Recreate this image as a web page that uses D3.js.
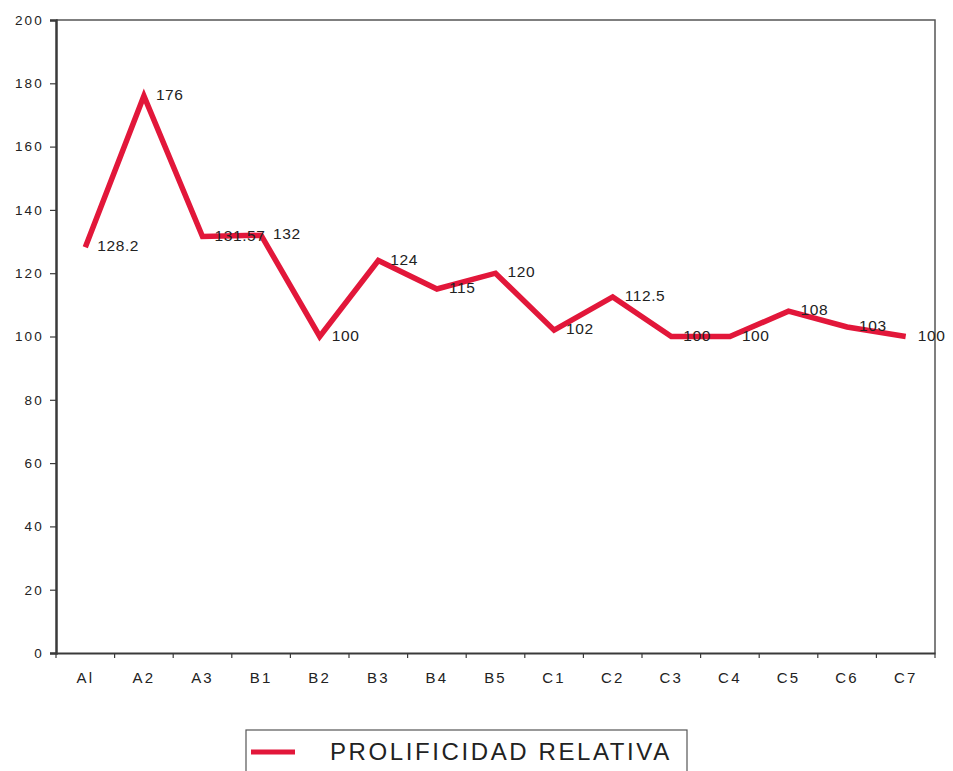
<!DOCTYPE html>
<html>
<head>
<meta charset="utf-8">
<script src="https://cdn.jsdelivr.net/npm/d3@7"></script>
<style>
  body { margin: 0; background: #fff; }
  svg { font-family: "Liberation Sans", Arial, sans-serif; }
</style>
</head>
<body>
<div id="chart"></div>
<script>
// categories and values
var categories = ["Al", "A2", "A3", "B1", "B2", "B3", "B4", "B5", "C1", "C2", "C3", "C4", "C5", "C6", "C7"];
var values = [128.2, 176, 131.57, 132, 100, 124, 115, 120, 102, 112.5, 100, 100, 108, 103, 100];
var valueLabels = ["128.2", "176", "131.57", "132", "100", "124", "115", "120", "102", "112.5", "100", "100", "108", "103", "100"];
var yTicks = [0, 20, 40, 60, 80, 100, 120, 140, 160, 180, 200];
var seriesName = "PROLIFICIDAD RELATIVA";

var svgWidth = 953, svgHeight = 771;
var plotLeft = 56, plotRight = 935, plotTop = 20, plotBottom = 653;
var red = "#e2173a";
var axisColor = "#3a3a3a";

var svg = d3.select("#chart").append("svg")
  .attr("width", svgWidth)
  .attr("height", svgHeight);

var x = d3.scaleBand().domain(categories).range([plotLeft, plotRight]);
var y = d3.scaleLinear().domain([0, 200]).range([plotBottom, plotTop]);

// frame (top and right)
svg.append("path")
  .attr("d", `M${plotLeft},${plotTop}H${plotRight}V${plotBottom}`)
  .attr("fill", "none")
  .attr("stroke", "#555")
  .attr("stroke-width", 1.5);

// y axis
var yAxis = svg.append("g")
  .attr("transform", `translate(${plotLeft},0)`)
  .call(d3.axisLeft(y).tickValues(yTicks).tickSize(6).tickPadding(6));
yAxis.select(".domain").attr("stroke", axisColor).attr("stroke-width", 2.5);
yAxis.selectAll(".tick line").attr("stroke", axisColor).attr("stroke-width", 1.2);
yAxis.selectAll("text")
  .attr("font-size", 13.5)
  .attr("fill", "#222")
  .attr("letter-spacing", 2.2);

// x axis
var xAxis = svg.append("g")
  .attr("transform", `translate(0,${plotBottom})`)
  .call(d3.axisBottom(x).tickSize(0).tickPadding(19));
xAxis.select(".domain").attr("stroke", axisColor).attr("stroke-width", 2);
xAxis.selectAll("text")
  .attr("font-size", 15)
  .attr("fill", "#222")
  .attr("letter-spacing", 2.2);

// x tick marks between categories
var edges = categories.map(c => x(c)).concat([plotRight]);
svg.append("g").selectAll("line")
  .data(edges)
  .enter().append("line")
  .attr("x1", d => d).attr("x2", d => d)
  .attr("y1", plotBottom).attr("y2", plotBottom + 5)
  .attr("stroke", axisColor)
  .attr("stroke-width", 1.2);

// line
var line = d3.line()
  .x((d, i) => x(categories[i]) + x.bandwidth() / 2)
  .y(d => y(d));

svg.append("path")
  .datum(values)
  .attr("d", line)
  .attr("fill", "none")
  .attr("stroke", red)
  .attr("stroke-width", 5.5)
  .attr("stroke-linejoin", "miter");

// value labels
svg.append("g").selectAll("text")
  .data(values)
  .enter().append("text")
  .attr("x", (d, i) => x(categories[i]) + x.bandwidth() / 2 + 12)
  .attr("y", d => y(d) + 4)
  .attr("font-size", 15.5)
  .attr("fill", "#222")
  .attr("letter-spacing", 0.6)
  .text((d, i) => valueLabels[i]);

// legend
var legend = svg.append("g");
legend.append("rect")
  .attr("x", 246).attr("y", 730)
  .attr("width", 441).attr("height", 50)
  .attr("fill", "#fff")
  .attr("stroke", "#555")
  .attr("stroke-width", 1.2);
legend.append("line")
  .attr("x1", 251).attr("x2", 295)
  .attr("y1", 752).attr("y2", 752)
  .attr("stroke", red)
  .attr("stroke-width", 5);
legend.append("text")
  .attr("x", 330).attr("y", 760)
  .attr("font-size", 24)
  .attr("fill", "#222")
  .attr("letter-spacing", 2.6)
  .text(seriesName);
</script>
</body>
</html>
